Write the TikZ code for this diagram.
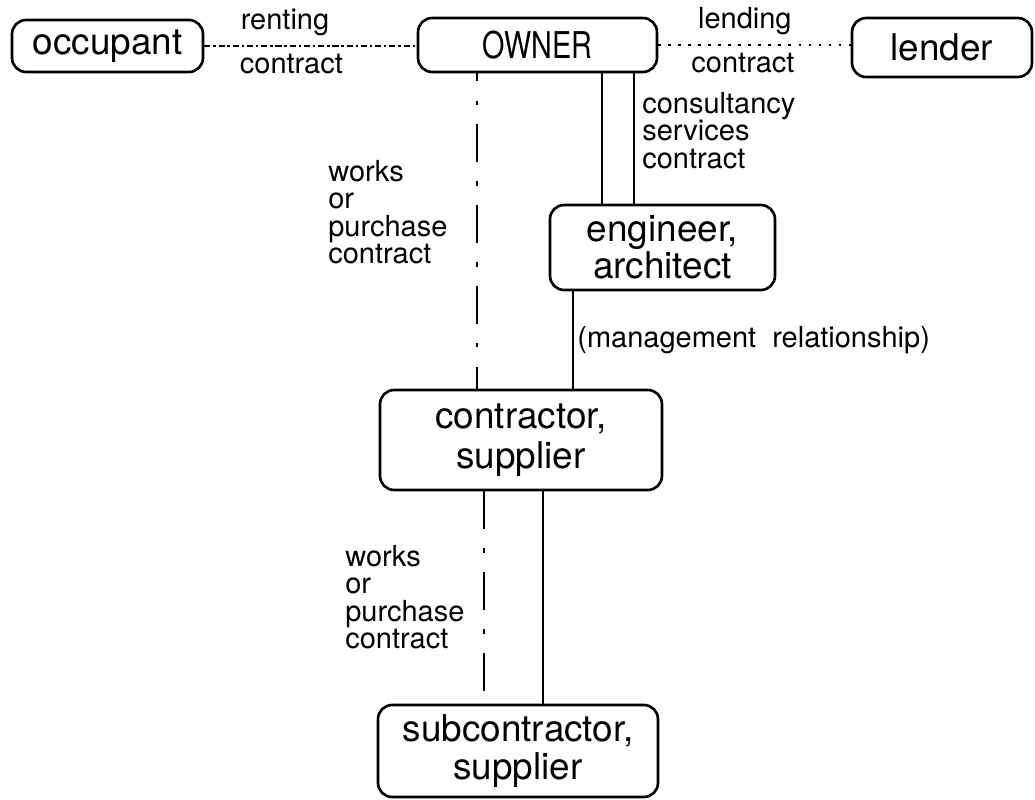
\documentclass[tikz,border=0pt]{standalone}
\usepackage{fontspec}
\setmainfont{TeX Gyre Heros}
\newfontfamily\narrowfont[FakeStretch=0.78]{TeX Gyre Heros}

\begin{document}
\begin{tikzpicture}[
    x=0.02cm, y=-0.02cm,
    box/.style={
      draw, rounded corners=8pt, line width=1.5pt,
      align=center, inner sep=0pt,
      font=\fontsize{21}{22}\selectfont
    },
    lbl/.style={
      align=left, inner sep=0pt,
      font=\fontsize{16.5}{15.6}\selectfont
    },
    link/.style={line width=1.4pt},
    worksline/.style={line width=1.4pt, dash pattern=on 21.5pt off 11pt on 2.5pt off 11pt},
    rentline/.style={line width=1.3pt, dash pattern=on 3.5pt off 1.6pt on 1.4pt off 1.6pt},
    lendline/.style={line width=1.5pt, dash pattern=on 1.5pt off 4.2pt}
  ]
  \useasboundingbox (0,0) rectangle (1035,800);

  % parties
  \node[box, minimum width=3.82cm, minimum height=1.04cm] (occupant) at (107.5,46) {occupant};
  \node[box, minimum width=4.78cm, minimum height=1.08cm] (owner) at (537.5,45) {\narrowfont OWNER};
  \node[box, minimum width=3.6cm, minimum height=1.18cm] (lender) at (942,47.5) {lender};
  \node[box, minimum width=4.5cm, minimum height=1.7cm, font=\fontsize{21}{17}\selectfont] (engineer) at (662.5,247.5) {engineer,\\architect};
  \node[box, minimum width=5.64cm, minimum height=2cm, font=\fontsize{21}{23}\selectfont] (contractor) at (521,440) {contractor,\\supplier};
  \node[box, minimum width=5.6cm, minimum height=1.84cm] (sub) at (518,751) {subcontractor,\\supplier};

  % contracts
  \draw[rentline] (occupant.east) -- (occupant.east -| owner.west)
    node[lbl, pos=0.38, above=5pt] {renting}
    node[lbl, pos=0.41, below=4pt] {contract};
  \draw[lendline] (owner.east) -- (owner.east -| lender.west)
    node[lbl, pos=0.45, above=5pt] {lending}
    node[lbl, pos=0.44, below=4pt] {contract};

  \draw[worksline, dash phase=17pt] ([xshift=-1.21cm]owner.south) -- ([xshift=-1.21cm]owner.south |- contractor.north);
  \draw[link] ([xshift=1.29cm]owner.south) -- ([xshift=1.29cm]owner.south |- engineer.north);
  \draw[link] ([xshift=1.93cm]owner.south) -- ([xshift=1.93cm]owner.south |- engineer.north);
  \draw[link] ([xshift=-1.79cm]engineer.south) -- ([xshift=-1.79cm]engineer.south |- contractor.north);
  \draw[worksline] ([xshift=-0.74cm]contractor.south) -- ([xshift=-0.74cm]contractor.south |- sub.north);
  \draw[link] ([xshift=0.44cm]contractor.south) -- ([xshift=0.44cm]contractor.south |- sub.north);

  % labels
  \node[lbl, anchor=north west] (works1) at (328,160) {works\\or\\purchase\\contract};
  \node[lbl, anchor=north west] (consult) at (642,92) {consultancy\\services\\contract};
  \node[lbl, anchor=west] (mgmt) at (577,340) {(management\ \ relationship)};
  \node[lbl, anchor=north west] (works2) at (345,545) {works\\or\\purchase\\contract};
\end{tikzpicture}
\end{document}
